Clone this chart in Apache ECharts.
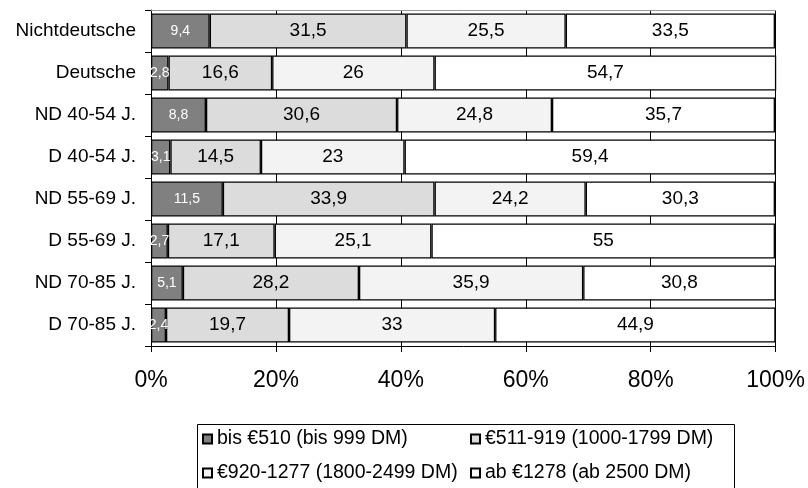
<!DOCTYPE html>
<html><head><meta charset="utf-8">
<script src="https://cdn.jsdelivr.net/npm/echarts@6/dist/echarts.min.js"></script>
<style>html,body{margin:0;padding:0;background:#fff}#c{width:808px;height:488px}</style>
</head><body><div id="c"></div>
<script>
var categories = ['Nichtdeutsche','Deutsche','ND 40-54 J.','D 40-54 J.','ND 55-69 J.','D 55-69 J.','ND 70-85 J.','D 70-85 J.'];
var seriesNames = ['bis €510 (bis 999 DM)','€511-919 (1000-1799 DM)','€920-1277 (1800-2499 DM)','ab €1278 (ab 2500 DM)'];
var s1 = [9.4, 2.8, 8.8, 3.1, 11.5, 2.7, 5.1, 2.4];
var s2 = [31.5, 16.6, 30.6, 14.5, 33.9, 17.1, 28.2, 19.7];
var s3 = [25.5, 26, 24.8, 23, 24.2, 25.1, 35.9, 33];
var s4 = [33.5, 54.7, 35.7, 59.4, 30.3, 55, 30.8, 44.9];
var xTicks = [0, 20, 40, 60, 80, 100];
var colors = ['#808080','#dcdcdc','#f3f3f3','#ffffff'];

var font = 'Liberation Sans, Arial, sans-serif';
function mk(i, data) {
  return {
    name: seriesNames[i], type: 'bar', stack: 'a', data: data,
    barCategoryGap: '17%',
    itemStyle: { color: colors[i], borderColor: '#000', borderWidth: 1.3 },
    label: {
      show: true, position: 'inside', fontFamily: font,
      color: i === 0 ? '#fff' : '#000', fontSize: i === 0 ? 14 : 19,
      formatter: function (p) { return String(p.value).replace('.', ','); }
    }
  };
}
var legendText = { fontSize: 19.5, lineHeight: 20, color: '#000', fontFamily: font };
var chart = echarts.init(document.getElementById('c'));
chart.setOption({
  animation: false,
  textStyle: { fontFamily: font },
  grid: { left: 151, right: 29, top: 10, bottom: 142 },
  xAxis: [{
    type: 'value', min: 0, max: 100, interval: 20,
    axisLine: { show: true, lineStyle: { color: '#000' } },
    axisTick: { show: true, length: 6, lineStyle: { color: '#000' } },
    splitLine: { show: true, lineStyle: { color: '#000', width: 1 } },
    axisLabel: { margin: 23, fontSize: 23, color: '#000', fontFamily: font,
      formatter: function (v) { return xTicks.indexOf(v) >= 0 ? v + '%' : ''; } }
  }, {
    type: 'value', min: 0, max: 100, position: 'top',
    axisLine: { show: true, lineStyle: { color: '#999' } },
    axisTick: { show: false }, axisLabel: { show: false }, splitLine: { show: false }
  }],
  yAxis: {
    type: 'category', data: categories, inverse: true,
    axisLine: { show: true, lineStyle: { color: '#000' } },
    axisTick: { show: true, length: 6, lineStyle: { color: '#000' } },
    axisLabel: { margin: 15, fontSize: 19, color: '#000', fontFamily: font }
  },
  legend: [{
    data: [seriesNames[0], seriesNames[2]], left: 202, top: 429, orient: 'vertical', icon: 'rect',
    itemWidth: 9, itemHeight: 9, itemGap: 14, itemTextGap: 8,
    textStyle: legendText, padding: 0
  }, {
    data: [seriesNames[1], seriesNames[3]], left: 470, top: 429, orient: 'vertical', icon: 'rect',
    itemWidth: 9, itemHeight: 9, itemGap: 14, itemTextGap: 8,
    textStyle: legendText, padding: 0
  }],
  graphic: [{
    type: 'rect', left: 195, top: 422, shape: { width: 537, height: 72 },
    style: { fill: 'none', stroke: '#000', lineWidth: 1 }, silent: true
  }],
  series: [mk(0, s1), mk(1, s2), mk(2, s3), mk(3, s4)]
});
</script></body></html>
